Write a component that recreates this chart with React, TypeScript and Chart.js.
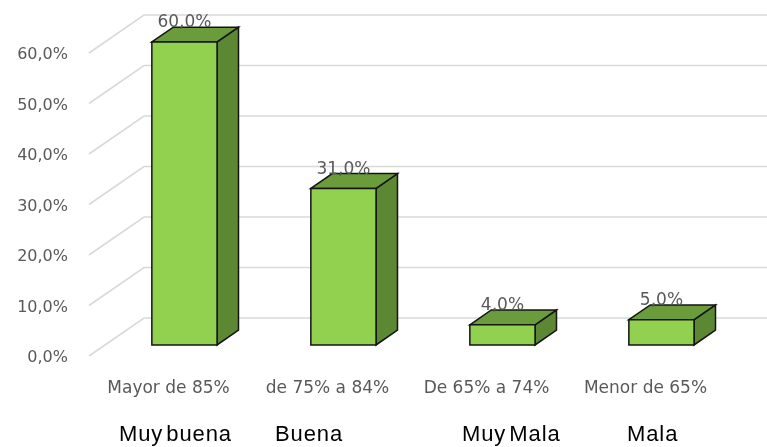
import { useEffect, useRef } from 'react';
import { Chart, registerables } from 'chart.js';

Chart.register(...registerables);

// Rango de calificación y porcentaje de estudiantes en cada rango
const categories = ['Mayor de 85%', 'de 75% a 84%', 'De 65% a 74%', 'Menor de 65%'];
const percentages = [60, 31, 4, 5];
const ratingLabels = ['Muy buena', 'Buena', 'Muy Mala', 'Mala'];
const yMax = 60;
const yStep = 10;

// Oblique projection used for the 3D look: full floor depth and bar slab position inside it
const DEPTH_X = 55;
const DEPTH_Y = 38;
const BAR_FRONT = 0.29;
const BAR_BACK = 0.68;

const FACE_FRONT = '#92d050';
const FACE_TOP = '#6b9c3b';
const FACE_SIDE = '#5c8733';
const EDGE = '#141414';
const GRID = '#d9d9d9';
const TEXT_GREY = '#595959';

const fmt = (v: number) => v.toFixed(1).replace('.', ',') + '%';

const box3d = {
  id: 'box3d',
  beforeDatasetsDraw(chart: any) {
    const { ctx, chartArea, scales } = chart;
    const y = scales.y;
    ctx.save();
    ctx.strokeStyle = GRID;
    ctx.lineWidth = 1.6;
    for (const t of y.ticks) {
      const py = y.getPixelForValue(t.value);
      ctx.beginPath();
      ctx.moveTo(chartArea.left, py);
      ctx.lineTo(chartArea.left + DEPTH_X, py - DEPTH_Y);
      ctx.lineTo(chart.width, py - DEPTH_Y);
      ctx.stroke();
    }
    ctx.restore();
  },
  afterDatasetsDraw(chart: any) {
    const { ctx } = chart;
    const meta = chart.getDatasetMeta(0);
    const ox = DEPTH_X * BAR_FRONT;
    const oy = DEPTH_Y * BAR_FRONT;
    const dx = DEPTH_X * (BAR_BACK - BAR_FRONT);
    const dy = DEPTH_Y * (BAR_BACK - BAR_FRONT);
    const poly = (pts: number[][], fill: string) => {
      ctx.beginPath();
      ctx.moveTo(pts[0][0], pts[0][1]);
      for (let k = 1; k < pts.length; k++) ctx.lineTo(pts[k][0], pts[k][1]);
      ctx.closePath();
      ctx.fillStyle = fill;
      ctx.fill();
      ctx.stroke();
    };
    ctx.save();
    ctx.strokeStyle = EDGE;
    ctx.lineWidth = 1.5;
    ctx.lineJoin = 'miter';
    meta.data.forEach((bar: any) => {
      const { x, y, base, width } = bar.getProps(['x', 'y', 'base', 'width'], true);
      const l = x - width / 2 + ox;
      const r = x + width / 2 + ox;
      const t = y - oy;
      const b = base - oy;
      poly([[r, t], [r + dx, t - dy], [r + dx, b - dy], [r, b]], FACE_SIDE);
      poly([[l, t], [l + dx, t - dy], [r + dx, t - dy], [r, t]], FACE_TOP);
      poly([[l, t], [r, t], [r, b], [l, b]], FACE_FRONT);
    });
    ctx.fillStyle = TEXT_GREY;
    ctx.font = '17px "DejaVu Sans"';
    ctx.textAlign = 'center';
    ctx.textBaseline = 'middle';
    meta.data.forEach((bar: any, i: number) => {
      const { x, y } = bar.getProps(['x', 'y'], true);
      ctx.fillText(fmt(percentages[i]), x + ox, y - oy - 19);
    });
    ctx.restore();
  },
};

export default function App() {
  const canvasRef = useRef<HTMLCanvasElement | null>(null);

  useEffect(() => {
    const canvas = canvasRef.current;
    if (!canvas) return;
    const chart = new Chart(canvas, {
      type: 'bar',
      data: {
        labels: categories,
        datasets: [
          {
            data: percentages,
            backgroundColor: 'rgba(0,0,0,0)',
            borderWidth: 0,
            barPercentage: 0.41,
            categoryPercentage: 1,
          },
        ],
      },
      options: {
        responsive: false,
        animation: false,
        devicePixelRatio: 1,
        layout: { padding: { top: 53, right: 42, left: 0, bottom: 0 } },
        plugins: { legend: { display: false }, tooltip: { enabled: false } },
        scales: {
          x: {
            grid: { display: false, drawTicks: false },
            border: { display: false },
            ticks: {
              color: TEXT_GREY,
              font: { family: 'DejaVu Sans', size: 17 },
              padding: 22,
            },
            afterFit: (s: any) => {
              s.height = 91;
            },
          },
          y: {
            min: 0,
            max: yMax,
            grid: { display: false, drawTicks: false },
            border: { display: false },
            ticks: {
              stepSize: yStep,
              color: TEXT_GREY,
              font: { family: 'DejaVu Sans', size: 16 },
              padding: 21,
              labelOffset: 2,
              callback: (v: any) => fmt(Number(v)),
            },
            afterFit: (s: any) => {
              s.width = 89;
            },
          },
        },
      },
      plugins: [box3d],
    });
    return () => chart.destroy();
  }, []);

  const lefts = [119, 275, 462, 627];

  return (
    <div style={{ position: 'fixed', left: 0, top: 0, width: 767, height: 447, background: '#fff', overflow: 'hidden' }}>
      <canvas ref={canvasRef} width={767} height={447} style={{ display: 'block', width: 767, height: 447 }} />
      {ratingLabels.map((t, i) => (
        <span
          key={t}
          style={{
            position: 'absolute',
            left: lefts[i],
            top: 423,
            fontFamily: '"Liberation Sans", Arial, sans-serif',
            fontSize: 22,
            lineHeight: '22px',
            letterSpacing: '0.9px',
            wordSpacing: '-4px',
            color: '#000',
            whiteSpace: 'nowrap',
          }}
        >
          {t}
        </span>
      ))}
    </div>
  );
}
